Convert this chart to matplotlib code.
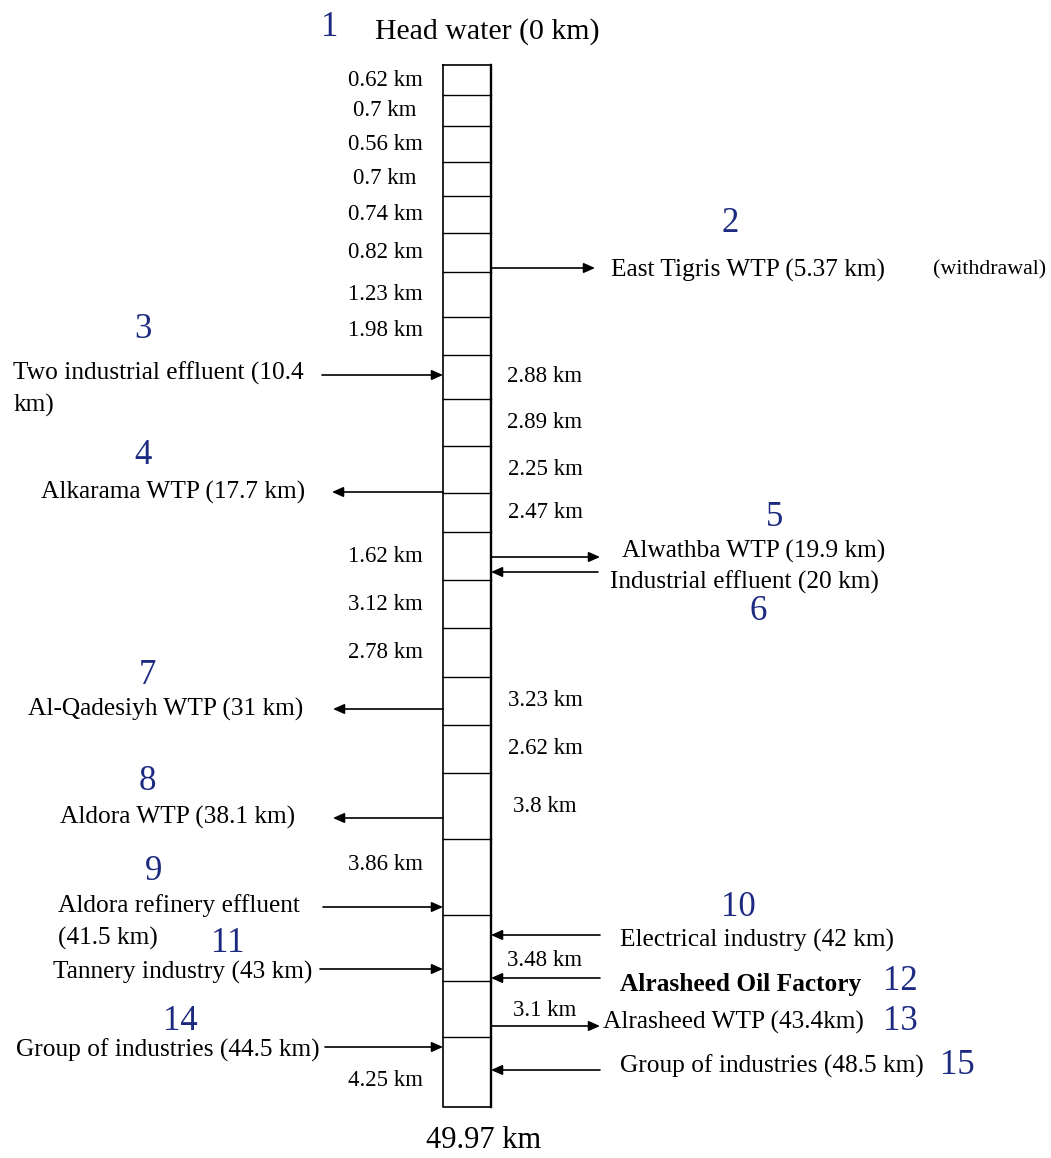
import matplotlib.pyplot as plt
from matplotlib.patches import FancyArrowPatch

# segment lengths along the river (km), top to bottom
seg_km = [0.62, 0.7, 0.56, 0.7, 0.74, 0.82, 1.23, 1.98, 2.88, 2.89, 2.25,
          2.47, 1.62, 3.12, 2.78, 3.23, 2.62, 3.8, 3.86, 3.48, 3.1, 4.25]
seg_side = ['L'] * 8 + ['R'] * 4 + ['L'] * 3 + ['R'] * 3 + ['L'] + ['R'] * 2 + ['L']
total_km = 49.97

# sites: number, name, side of river, flow ('out' = withdrawal, 'in' = effluent)
site_no = [2, 3, 4, 5, 6, 7, 8, 9, 10, 11, 12, 13, 14, 15]
site_name = ['East Tigris WTP (5.37 km)', 'Two industrial effluent (10.4\nkm)',
             'Alkarama WTP (17.7 km)', 'Alwathba WTP (19.9 km)',
             'Industrial effluent (20 km)', 'Al-Qadesiyh WTP (31 km)',
             'Aldora WTP (38.1 km)', 'Aldora refinery effluent\n(41.5 km)',
             'Electrical industry (42 km)', 'Tannery industry (43 km)',
             'Alrasheed Oil Factory', 'Alrasheed WTP (43.4km)',
             'Group of industries (44.5 km)', 'Group of industries (48.5 km)']
site_side = ['R', 'L', 'L', 'R', 'R', 'L', 'L', 'L', 'R', 'L', 'R', 'R', 'L', 'R']
site_flow = ['out', 'in', 'out', 'out', 'in', 'out', 'out', 'in', 'in', 'in',
             'in', 'out', 'in', 'in']

# ---- layout (pixels) ----
cell_h = [30, 31, 36, 34, 37, 39, 45, 38, 44, 47, 47, 39, 48, 48, 49, 48, 48,
          66, 76, 66, 56, 70]
box_top, box_l, box_r = 65, 443, 491
label_nudge = {7: -6, 18: -12, 19: 12, 20: 1, 21: 8}
line_gap = 32
# arrow y, outer arrow end x, text x, text y, text align, number x, number y
site_pos = [
    (268, 595, 611, 270, 'left', 730, 223),
    (375, 322, 13, 373, 'left', 143, 330),
    (492, 332, 305, 492, 'right', 143, 456),
    (557, 600, 622, 551, 'left', 775, 518),
    (572, 598, 610, 582, 'left', 758, 612),
    (709, 333, 303, 709, 'right', 147, 675),
    (818, 333, 295, 817, 'right', 147, 782),
    (907, 323, 58, 906, 'left', 154, 872),
    (935, 600, 620, 940, 'left', 738, 907),
    (969, 320, 312, 972, 'right', 228, 944),
    (978, 600, 620, 985, 'left', 900, 982),
    (1026, 600, 603, 1022, 'left', 900, 1022),
    (1047, 325, 320, 1050, 'right', 180, 1022),
    (1070, 600, 620, 1066, 'left', 957, 1065),
]

blue = '#1c2a80'
serif = 'Liberation Serif'
fs_km = 16.5
fs_txt = 18.3
fs_num = 25

fig = plt.figure(figsize=(10.51, 11.58), dpi=100)
ax = fig.add_axes([0, 0, 1, 1])
ax.set_xlim(0, 1051)
ax.set_ylim(1158, 0)
ax.axis('off')

# river column
bounds = [box_top]
for h in cell_h:
    bounds.append(bounds[-1] + h)
ax.plot([box_l, box_r, box_r, box_l, box_l],
        [bounds[0], bounds[0], bounds[-1], bounds[-1], bounds[0]], color='black', lw=1.2)
ax.plot([box_r, box_r], [bounds[0], bounds[-1]], color='black', lw=1.7)
for b in bounds[1:-1]:
    ax.plot([box_l, box_r], [b, b], color='black', lw=1.0)

for i, (km, side) in enumerate(zip(seg_km, seg_side)):
    yc = (bounds[i] + bounds[i + 1]) / 2 + label_nudge.get(i, 0)
    xc = 385 if side == 'L' else 545
    ax.text(xc, yc, f'{km:g} km', ha='center', va='center', family=serif, fontsize=fs_km)

# head water and total length
ax.text(330, 28, '1', ha='center', va='center', family=serif, fontsize=fs_num, color=blue)
ax.text(375, 32, 'Head water (0 km)', ha='left', va='center', family=serif, fontsize=21.5)
ax.text(484, 1141, f'{total_km:g} km', ha='center', va='center', family=serif, fontsize=22)

for no, name, side, flow, pos in zip(site_no, site_name, site_side, site_flow, site_pos):
    ay, ax_end, tx, ty, ha, nx, ny = pos
    edge = box_r if side == 'R' else box_l
    if flow == 'out':
        start, end = (edge, ay), (ax_end, ay)
    else:
        start, end = (ax_end, ay), (edge, ay)
    arr = FancyArrowPatch(start, end, arrowstyle='-|>,head_length=0.45,head_width=0.2',
                          mutation_scale=15, lw=1.2, color='black', shrinkA=0, shrinkB=0)
    ax.add_patch(arr)
    weight = 'bold' if no == 12 else 'normal'
    for k, line in enumerate(name.split('\n')):
        ax.text(tx, ty + k * line_gap, line, ha=ha, va='center', family=serif,
                fontsize=fs_txt, fontweight=weight)
    ax.text(nx, ny, str(no), ha='center', va='center', family=serif, fontsize=fs_num, color=blue)

ax.text(1046, 270, '(withdrawal)', ha='right', va='center', family=serif, fontsize=15.8)

fig.savefig('out.png', dpi=100)
